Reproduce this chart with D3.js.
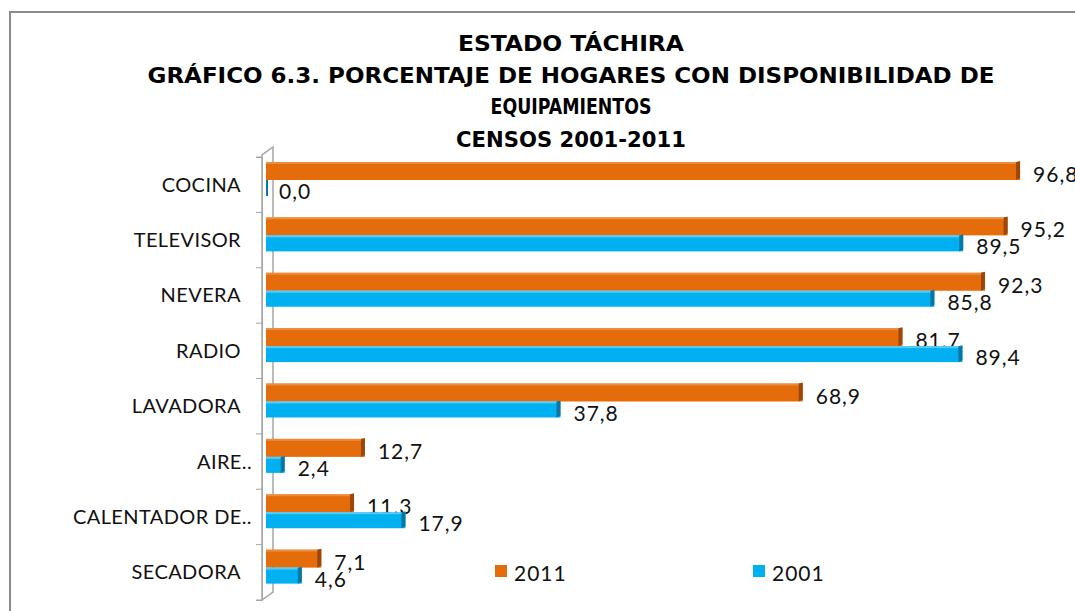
<!DOCTYPE html>
<html>
<head>
<meta charset="utf-8">
<script src="https://cdn.jsdelivr.net/npm/d3@7"></script>
<style>
  body { margin: 0; background: #fff; }
  svg { display: block; }
</style>
</head>
<body>
<svg width="1075" height="611"></svg>
<script>
// chart data
var categories = ["COCINA", "TELEVISOR", "NEVERA", "RADIO", "LAVADORA", "AIRE..", "CALENTADOR DE..", "SECADORA"];
var values2011 = [96.8, 95.2, 92.3, 81.7, 68.9, 12.7, 11.3, 7.1];
var values2001 = [0.0, 89.5, 85.8, 89.4, 37.8, 2.4, 17.9, 4.6];
var seriesNames = ["2011", "2001"];
var titleLines = ["ESTADO TÁCHIRA", "GRÁFICO 6.3. PORCENTAJE DE HOGARES CON DISPONIBILIDAD  DE", "EQUIPAMIENTOS", "CENSOS 2001-2011"];

var svg = d3.select("svg");
var colors = { "2011": "#E46C0A", "2001": "#00B0F0" };
var darker = { "2011": "#9c4707", "2001": "#0a77a3" };
var lighter = { "2011": "#f09a55", "2001": "#7ad6f8" };

// outer frame (cut off at right and bottom like the screenshot)
svg.append("rect")
  .attr("x", 10).attr("y", 12)
  .attr("width", 1100).attr("height", 640)
  .attr("fill", "none").attr("stroke", "#8c8c8c").attr("stroke-width", 2);

// title
var titleY = [51, 83, 114, 147];
var titleW = [226, 847, 161, 230];
svg.selectAll(".title")
  .data(titleLines)
  .enter().append("text")
  .attr("class", "title")
  .attr("x", 571)
  .attr("y", function(d, i) { return titleY[i]; })
  .attr("text-anchor", "middle")
  .attr("textLength", function(d, i) { return titleW[i]; })
  .attr("lengthAdjust", "spacingAndGlyphs")
  .style("font-family", "'DejaVu Sans Condensed', 'DejaVu Sans', sans-serif")
  .style("font-weight", "bold")
  .style("font-size", "22px")
  .style("fill", "#000")
  .text(function(d) { return d; });

var x = d3.scaleLinear().domain([0, 100]).range([266, 1045]);
var y = d3.scaleBand().domain(categories).range([157, 600]);

// 3d wall of the category axis
var wall = svg.append("g").attr("stroke", "#a6a6a6").attr("fill", "none");
wall.append("path")
  .attr("d", "M262,600 L262,155 L273,147 L273,592 L262,600")
  .attr("stroke-width", 1.5);

// category axis with ticks
var yAxis = d3.axisLeft(y).tickSize(6).tickSizeOuter(6).tickFormat("");
var ag = svg.append("g").attr("transform", "translate(262,0)").call(yAxis);
ag.select(".domain").attr("stroke", "#a6a6a6");
ag.selectAll(".tick line").attr("stroke", "#a6a6a6")
  .attr("transform", function() { return "translate(0," + (-y.bandwidth() / 2) + ")"; });
// last bottom tick
ag.append("line").attr("x1", -6).attr("x2", 0).attr("y1", 600).attr("y2", 600).attr("stroke", "#a6a6a6");

svg.append("g").selectAll("text")
  .data(categories)
  .enter().append("text")
  .attr("x", function(d) { return d.indexOf("..") > 0 ? 252 : 241; })
  .attr("y", function(d) { return y(d) + y.bandwidth() / 2 + 7; })
  .attr("text-anchor", "end")
  .style("font-family", "Lato, 'Open Sans', sans-serif")
  .style("font-size", "20px")
  .style("letter-spacing", "0.4px")
  .style("fill", "#111")
  .text(function(d) { return d; });

// bars
var rows = [];
categories.forEach(function(c, i) {
  rows.push({ cat: c, s: "2011", v: values2011[i], off: 5, h: 18 });
  rows.push({ cat: c, s: "2001", v: values2001[i], off: 23, h: 16 });
});

var bars = svg.append("g").selectAll("g")
  .data(rows)
  .enter().append("g");

bars.append("rect")
  .attr("x", x(0))
  .attr("y", function(d) { return y(d.cat) + d.off; })
  .attr("width", function(d) { return Math.max(x(d.v) - x(0), 2); })
  .attr("height", function(d) { return d.h; })
  .attr("fill", function(d) { return d.v === 0 ? darker[d.s] : colors[d.s]; });

// top face
bars.append("rect")
  .attr("x", x(0))
  .attr("y", function(d) { return y(d.cat) + d.off; })
  .attr("width", function(d) { return Math.max(x(d.v) - x(0), 2); })
  .attr("height", 2)
  .attr("fill", function(d) { return d.v === 0 ? darker[d.s] : lighter[d.s]; })
  .attr("opacity", 0.7);

// end face
bars.filter(function(d) { return d.v > 0; })
  .append("path")
  .attr("d", function(d) {
    var x1 = x(d.v), y0 = y(d.cat) + d.off;
    return "M" + (x1 - 4) + "," + y0 + " L" + x1 + "," + (y0 - 1) +
      " L" + x1 + "," + (y0 + d.h - 2) + " L" + (x1 - 4) + "," + (y0 + d.h) + "Z";
  })
  .attr("fill", function(d) { return darker[d.s]; });

// value labels
bars.append("text")
  .attr("x", function(d) { return x(d.v) + 13; })
  .attr("y", function(d) { return y(d.cat) + d.off + d.h / 2 + 11; })
  .style("font-family", "Lato, 'Open Sans', sans-serif")
  .style("font-size", "21px")
  .style("letter-spacing", "1px")
  .style("fill", "#111")
  .text(function(d) { return d.v.toFixed(1).replace(".", ","); });

// legend
var legX = [495, 753];
var leg = svg.append("g").selectAll("g")
  .data(seriesNames)
  .enter().append("g")
  .attr("transform", function(d, i) { return "translate(" + legX[i] + ",565)"; });
leg.append("rect").attr("width", 12).attr("height", 12)
  .attr("fill", function(d) { return colors[d]; });
leg.append("text")
  .attr("x", 19).attr("y", 16)
  .style("font-family", "Lato, 'Open Sans', sans-serif")
  .style("font-size", "21px")
  .style("letter-spacing", "1px")
  .style("fill", "#111")
  .text(function(d) { return d; });
</script>
</body>
</html>
